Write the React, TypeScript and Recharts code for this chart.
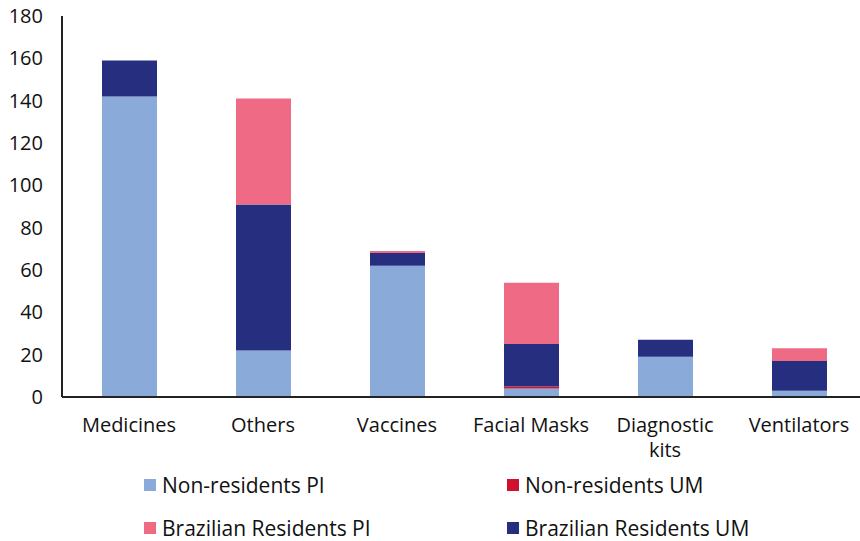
import { BarChart, Bar, XAxis, YAxis } from 'recharts'

// patent counts by product type
const categories = ['Medicines', 'Others', 'Vaccines', 'Facial Masks', 'Diagnostic kits', 'Ventilators']
const tickLines = [['Medicines'], ['Others'], ['Vaccines'], ['Facial Masks'], ['Diagnostic', 'kits'], ['Ventilators']]
const nonResidentsPI = [142, 22, 62, 4, 19, 3]
const nonResidentsUM = [0, 0, 0, 1, 0, 0]
const brazilianUM = [17, 69, 6, 20, 8, 14]
const brazilianPI = [0, 50, 1, 29, 0, 6]
const yTicks = [0, 20, 40, 60, 80, 100, 120, 140, 160, 180]

const SERIES = [
  { key: 'nrPI', name: 'Non-residents PI', color: '#8AABDA' },
  { key: 'nrUM', name: 'Non-residents UM', color: '#D0102F' },
  { key: 'brUM', name: 'Brazilian Residents UM', color: '#262E80' },
  { key: 'brPI', name: 'Brazilian Residents PI', color: '#EE6A85' },
]

// legend reads row by row, two columns
const LEGEND_ORDER = ['nrPI', 'nrUM', 'brPI', 'brUM']

const FONT = '"Open Sans", sans-serif'

const data = categories.map((name, i) => ({
  name,
  nrPI: nonResidentsPI[i],
  nrUM: nonResidentsUM[i],
  brUM: brazilianUM[i],
  brPI: brazilianPI[i],
}))

function CategoryTick(props: any) {
  const { x, index } = props
  const lines = tickLines[index] ?? [props.payload.value]
  return (
    <g>
      {lines.map((l: string, i: number) => (
        <text key={i} x={x} y={432 + i * 25} textAnchor="middle" fontSize={20} fontFamily={FONT} fill="#111">
          {l}
        </text>
      ))}
    </g>
  )
}

export default function App() {
  return (
    <div style={{ position: 'absolute', left: 0, top: 0, width: 860, height: 541, overflow: 'hidden', background: '#fff' }}>
      <BarChart
        width={880}
        height={541}
        data={data}
        margin={{ top: 16, right: 14, left: 0, bottom: 0 }}
        barSize={55}
      >
        <XAxis
          dataKey="name"
          height={144}
          tickLine={false}
          tickSize={0}
          axisLine={{ stroke: '#222', strokeWidth: 2 }}
          tick={<CategoryTick />}
          interval={0}
        />
        <YAxis
          width={62}
          domain={[0, 180]}
          ticks={yTicks}
          tickLine={false}
          tickSize={0}
          tickMargin={19}
          axisLine={{ stroke: '#222', strokeWidth: 2 }}
          tick={{ fontSize: 20, fontFamily: FONT, fill: '#111' }}
        />
        {SERIES.map((s) => (
          <Bar key={s.key} dataKey={s.key} name={s.name} stackId="a" fill={s.color} isAnimationActive={false} />
        ))}
      </BarChart>
      {LEGEND_ORDER.map((key, i) => {
        const s = SERIES.find((d) => d.key === key)!
        const left = i % 2 === 0 ? 144 : 507
        const top = i < 2 ? 472 : 515
        return (
          <div
            key={key}
            style={{
              position: 'absolute',
              left,
              top,
              height: 26,
              lineHeight: '26px',
              display: 'flex',
              alignItems: 'center',
              fontFamily: FONT,
              fontSize: 21,
              color: '#111',
              whiteSpace: 'nowrap',
            }}
          >
            <span style={{ width: 12, height: 12, background: s.color, marginRight: 6, display: 'inline-block' }} />
            {s.name}
          </div>
        )
      })}
    </div>
  )
}
